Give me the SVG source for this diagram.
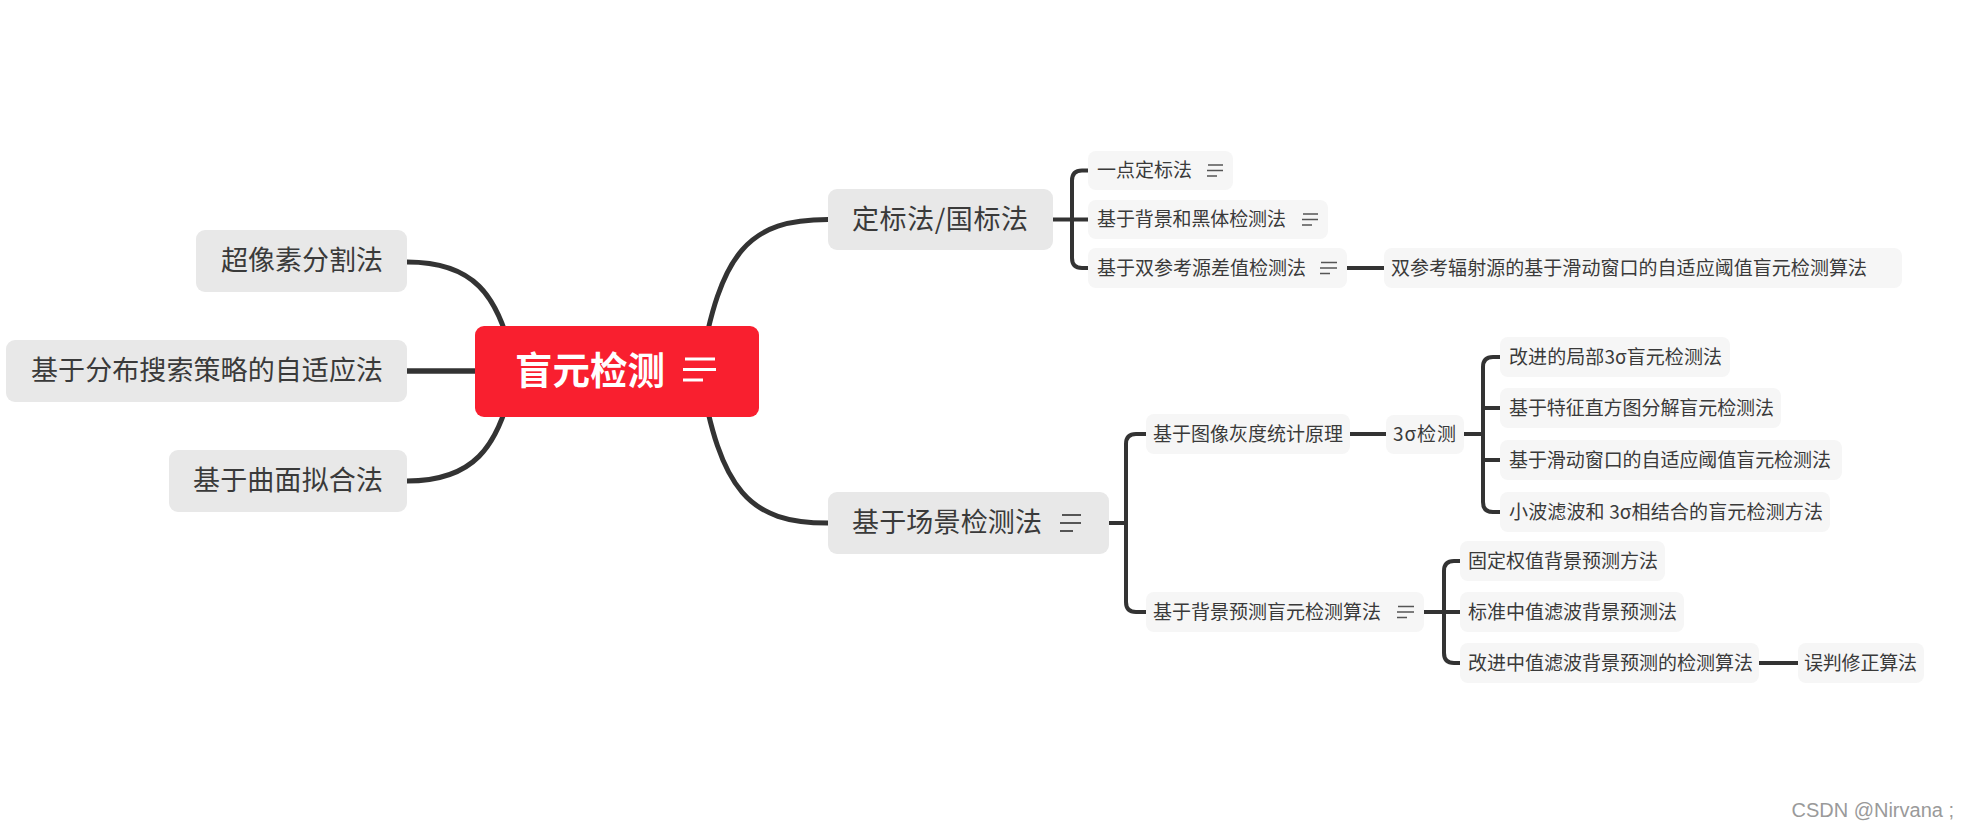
<svg xmlns="http://www.w3.org/2000/svg" width="1963" height="829" viewBox="0 0 1963 829">
<style>
.t{font-family:"Noto Sans CJK SC","Noto Sans",sans-serif;fill:#3a3a3a}
.l1 rect{fill:#e8e8e8}
.l2 rect{fill:#f6f6f6}
.l1 text{font-size:27px}
.l2 text{font-size:19px}
.c{fill:none;stroke:#333;stroke-width:5}
.b{fill:none;stroke:#333;stroke-width:4}
.ic{stroke:#555;stroke-width:1.6}
.ic1{stroke:#555;stroke-width:2}
.icw{stroke:#fff;stroke-width:3}
</style>
<rect width="1963" height="829" fill="#fff"/>
<g id="connectors">
<path class="c" d="M515 371 C500 290 470 262 407 262"/>
<path class="c" d="M515 371 C500 452 470 481 407 481"/>
<path class="c" d="M476 371 H407" style="stroke-width:5.5"/>
<path class="c" d="M700 371 C720 250 750 219.5 828 219.5"/>
<path class="c" d="M700 371 C720 492 750 523 828 523"/>
<path class="b" d="M1053 219.5 H1072 M1088 170.5 H1082 Q1072 170.5 1072 180.5 V258 Q1072 268 1082 268 H1088 M1072 219.5 H1088"/>
<path class="b" d="M1347 268 H1384"/>
<path class="b" d="M1109 523 H1126 M1146 434 H1136 Q1126 434 1126 444 V602 Q1126 612 1136 612 H1146"/>
<path class="b" d="M1350 434 H1386"/>
<path class="b" d="M1464 434 H1483 M1500 357 H1493 Q1483 357 1483 367 V502 Q1483 512 1493 512 H1500 M1483 408 H1500 M1483 460 H1500"/>
<path class="b" d="M1424 612 H1444 M1460 561 H1454 Q1444 561 1444 571 V653 Q1444 663 1454 663 H1460 M1444 612 H1460"/>
<path class="b" d="M1759 663 H1798"/>
</g>
<g id="n_root">
<rect x="475" y="326" width="284" height="91" rx="9" fill="#f91f2f"/>
<text class="t" x="515" y="384" font-size="38" font-weight="bold" style="fill:#fff" textLength="150" lengthAdjust="spacingAndGlyphs">盲元检测</text>
<path class="icw" d="M685 359 H715 M683 369.5 H716 M683 380 H703"/>
</g>
<g id="n_chaoxiangsu" class="l1">
<rect x="196" y="230" width="211" height="62" rx="9"/>
<text class="t" x="221" y="270" textLength="162">超像素分割法</text>
</g>
<g id="n_fenbu" class="l1">
<rect x="6" y="340" width="401" height="62" rx="9"/>
<text class="t" x="31" y="380" textLength="352">基于分布搜索策略的自适应法</text>
</g>
<g id="n_qumian" class="l1">
<rect x="169" y="450" width="238" height="62" rx="9"/>
<text class="t" x="193" y="490" textLength="190">基于曲面拟合法</text>
</g>
<g id="n_dingbiao" class="l1">
<rect x="828" y="189" width="225" height="61" rx="9"/>
<text class="t" x="852" y="229" textLength="176">定标法/国标法</text>
</g>
<g id="n_changjing" class="l1">
<rect x="828" y="492" width="281" height="62" rx="9"/>
<text class="t" x="852" y="532" textLength="190">基于场景检测法</text>
<path class="ic1" d="M1062 515 H1081 M1060 523 H1081 M1060 531 H1073"/>
</g>
<g id="n_yidian" class="l2">
<rect x="1088" y="151" width="145" height="39" rx="8"/>
<text class="t" x="1097" y="177" textLength="95">一点定标法</text>
<path class="ic" d="M1208 165 H1223 M1207 170.5 H1223 M1207 176 H1217"/>
</g>
<g id="n_heiti" class="l2">
<rect x="1088" y="200" width="240" height="39" rx="8"/>
<text class="t" x="1097" y="226" textLength="189">基于背景和黑体检测法</text>
<path class="ic" d="M1303 214 H1318 M1302 219.5 H1318 M1302 225 H1312"/>
</g>
<g id="n_shuangcan" class="l2">
<rect x="1088" y="248" width="259" height="40" rx="8"/>
<text class="t" x="1097" y="274.5" textLength="209">基于双参考源差值检测法</text>
<path class="ic" d="M1321 262.5 H1337 M1320 268 H1337 M1320 273.5 H1330"/>
</g>
<g id="n_shuangcan2" class="l2">
<rect x="1384" y="248" width="518" height="40" rx="8"/>
<text class="t" x="1391" y="274.5" textLength="476">双参考辐射源的基于滑动窗口的自适应阈值盲元检测算法</text>
</g>
<g id="n_huidu" class="l2">
<rect x="1146" y="414" width="204" height="40" rx="8"/>
<text class="t" x="1153" y="440.5" textLength="190">基于图像灰度统计原理</text>
</g>
<g id="n_3sigma" class="l2">
<rect x="1386" y="415" width="78" height="39" rx="8"/>
<text class="t" x="1393" y="440.5" textLength="63">3σ检测</text>
</g>
<g id="n_gaijin3s" class="l2">
<rect x="1500" y="337" width="230" height="40" rx="8"/>
<text class="t" x="1509" y="363.5" textLength="213">改进的局部3σ盲元检测法</text>
</g>
<g id="n_tezheng" class="l2">
<rect x="1500" y="388" width="281" height="40" rx="8"/>
<text class="t" x="1509" y="414.5" textLength="265">基于特征直方图分解盲元检测法</text>
</g>
<g id="n_huadong" class="l2">
<rect x="1500" y="440" width="342" height="40" rx="8"/>
<text class="t" x="1509" y="466.5" textLength="322">基于滑动窗口的自适应阈值盲元检测法</text>
</g>
<g id="n_xiaobo" class="l2">
<rect x="1500" y="492" width="330" height="40" rx="8"/>
<text class="t" x="1509" y="518.5" textLength="314">小波滤波和 3σ相结合的盲元检测方法</text>
</g>
<g id="n_beijing" class="l2">
<rect x="1146" y="592" width="278" height="40" rx="8"/>
<text class="t" x="1153" y="618.5" textLength="228">基于背景预测盲元检测算法</text>
<path class="ic" d="M1398 606.5 H1414 M1397 612 H1414 M1397 617.5 H1407"/>
</g>
<g id="n_guding" class="l2">
<rect x="1460" y="541" width="205" height="40" rx="8"/>
<text class="t" x="1468" y="567.5" textLength="190">固定权值背景预测方法</text>
</g>
<g id="n_biaozhun" class="l2">
<rect x="1460" y="592" width="224" height="40" rx="8"/>
<text class="t" x="1468" y="618.5" textLength="209">标准中值滤波背景预测法</text>
</g>
<g id="n_gaijinzz" class="l2">
<rect x="1460" y="643" width="299" height="40" rx="8"/>
<text class="t" x="1468" y="669.5" textLength="285">改进中值滤波背景预测的检测算法</text>
</g>
<g id="n_wupan" class="l2">
<rect x="1798" y="643" width="126" height="40" rx="8"/>
<text class="t" x="1804" y="669.5" textLength="113">误判修正算法</text>
</g>
<text x="1954" y="817" font-family="Liberation Sans, Arial, sans-serif" font-size="20" fill="#9a9a9a" text-anchor="end">CSDN @Nirvana ;</text>
</svg>
